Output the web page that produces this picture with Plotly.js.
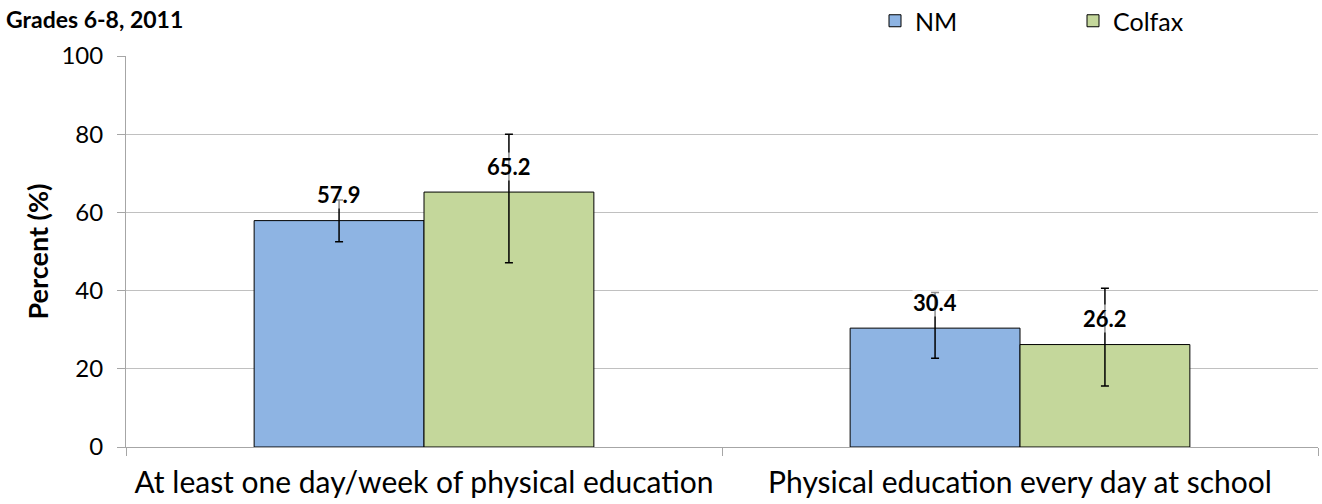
<!DOCTYPE html>
<html>
<head>
<meta charset="utf-8">
<script src="https://cdn.plot.ly/plotly-3.0.1.min.js"></script>
<style>html,body{margin:0;padding:0;background:#fff;}#chart{width:1322px;height:504px;}</style>
</head>
<body>
<div id="chart"></div>
<script>
const categories = ["At least one day/week of physical education", "Physical education every day at school"];
const nmValues = [57.9, 30.4];
const nmLower = [52.5, 22.7];
const nmUpper = [63.2, 39.5];
const colfaxValues = [65.2, 26.2];
const colfaxLower = [47.1, 15.6];
const colfaxUpper = [80.0, 40.6];
const seriesNames = ["NM", "Colfax"];
const yTicks = [0, 20, 40, 60, 80, 100];

const FONT = "Lato, 'Open Sans', sans-serif";
const bargap = 0.43;
const half = (1 - bargap) / 4;
const PW = 1192, PH = 391;

function errs(vals, lo, hi) {
  return {
    type: 'data', symmetric: false,
    array: vals.map((v, i) => hi[i] - v),
    arrayminus: vals.map((v, i) => v - lo[i]),
    color: '#000', thickness: 1.5, width: 4
  };
}

const traces = [
  {type: 'bar', name: seriesNames[0], x: categories, y: nmValues,
   marker: {color: '#8eb4e3', line: {color: '#000', width: 1}},
   error_y: errs(nmValues, nmLower, nmUpper), hoverinfo: 'y'},
  {type: 'bar', name: seriesNames[1], x: categories, y: colfaxValues,
   marker: {color: '#c4d79b', line: {color: '#000', width: 1}},
   error_y: errs(colfaxValues, colfaxLower, colfaxUpper), hoverinfo: 'y'}
];

const annotations = [];
[nmValues, colfaxValues].forEach((vals, s) => {
  vals.forEach((v, i) => {
    annotations.push({
      x: i + (s === 0 ? -half : half), y: v, xref: 'x', yref: 'y',
      text: '<b>' + v.toFixed(1) + '</b>', showarrow: false,
      yshift: 26, font: {family: FONT, size: 22, color: '#000'},
      bgcolor: 'rgba(255,255,255,0.55)', borderpad: 0
    });
  });
});
annotations.push({
  xref: 'paper', yref: 'paper', x: (4 - 126) / PW, y: (447 - 19) / PH,
  xanchor: 'left', yanchor: 'middle',
  text: '<b>Grades 6-8, 2011</b>', showarrow: false,
  font: {family: FONT, size: 23, color: '#000'}
});

const layout = {
  width: 1322, height: 504,
  margin: {l: 126, r: 4, t: 56, b: 57, autoexpand: false},
  paper_bgcolor: '#fff', plot_bgcolor: '#fff',
  barmode: 'group', bargap: bargap, bargroupgap: 0,
  font: {family: FONT, color: '#000'},
  showlegend: true,
  legend: {orientation: 'h', x: (875 - 126) / PW, y: (447 - 21) / PH, yanchor: 'middle', xanchor: 'left',
           entrywidth: 153, entrywidthmode: 'pixels',
           font: {family: FONT, size: 25, color: '#000'},
           itemwidth: 30, tracegroupgap: 0, bgcolor: 'rgba(0,0,0,0)'},
  xaxis: {type: 'category', showline: true, linecolor: '#a6a6a6', linewidth: 1,
          ticks: 'outside', tickson: 'boundaries', ticklen: 8, tickcolor: '#a6a6a6',
          ticklabelstandoff: 9,
          tickfont: {family: FONT, size: 30, color: '#000'}, showgrid: false, zeroline: false},
  yaxis: {range: [0, 100], tickvals: yTicks, showline: true, linecolor: '#a6a6a6', linewidth: 1,
          ticks: 'outside', ticklen: 8, tickcolor: '#a6a6a6', ticklabelstandoff: 9,
          gridcolor: '#c0c0c0', gridwidth: 1, zeroline: false,
          tickfont: {family: FONT, size: 24, color: '#000'},
          title: {text: '<b>Percent (%)</b>', font: {family: FONT, size: 27, color: '#000'}, standoff: 4}},
  annotations: annotations
};

Plotly.newPlot('chart', traces, layout, {displayModeBar: false, staticPlot: true});
</script>
</body>
</html>
